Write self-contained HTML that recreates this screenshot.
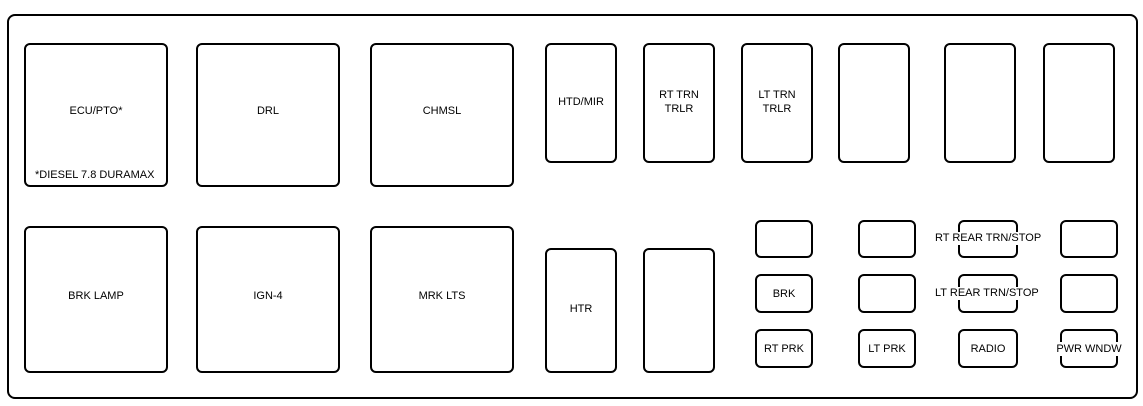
<!DOCTYPE html><html><head><style>
body{margin:0;width:1143px;height:406px;background:#fff;position:relative;font-family:"Liberation Sans",sans-serif;overflow:hidden}
.b{position:absolute;border:2px solid #000;border-radius:6px;box-sizing:border-box;display:flex;align-items:center;justify-content:center;text-align:center;font-size:11px;line-height:14px;color:#000}
.t{position:absolute;font-size:11px;background:#fff;color:#000;white-space:nowrap;line-height:13px}
.u{padding-bottom:8px}
</style></head><body>
<div class="b" style="left:7px;top:14px;width:1131px;height:385px;border-radius:8px"></div>
<div class="b u" style="left:24px;top:43px;width:144px;height:144px">ECU/PTO*</div>
<div class="t" style="left:35px;top:169px;font-size:11px">*DIESEL 7.8 DURAMAX</div>
<div class="b u" style="left:196px;top:43px;width:144px;height:144px">DRL</div>
<div class="b u" style="left:370px;top:43px;width:144px;height:144px">CHMSL</div>
<div class="b" style="left:545px;top:43px;width:72px;height:120px;padding-bottom:2px">HTD/MIR</div>
<div class="b" style="left:643px;top:43px;width:72px;height:120px;padding-bottom:2px">RT TRN<br>TRLR</div>
<div class="b" style="left:741px;top:43px;width:72px;height:120px;padding-bottom:2px">LT TRN<br>TRLR</div>
<div class="b" style="left:838px;top:43px;width:72px;height:120px"></div>
<div class="b" style="left:944px;top:43px;width:72px;height:120px"></div>
<div class="b" style="left:1043px;top:43px;width:72px;height:120px"></div>
<div class="b u" style="left:24px;top:226px;width:144px;height:147px">BRK LAMP</div>
<div class="b u" style="left:196px;top:226px;width:144px;height:147px">IGN-4</div>
<div class="b u" style="left:370px;top:226px;width:144px;height:147px">MRK LTS</div>
<div class="b" style="left:545px;top:248px;width:72px;height:125px;padding-bottom:4px">HTR</div>
<div class="b" style="left:643px;top:248px;width:72px;height:125px"></div>
<div class="b" style="left:755px;top:220px;width:58px;height:38px"></div>
<div class="b" style="left:755px;top:274px;width:58px;height:39px">BRK</div>
<div class="b" style="left:755px;top:329px;width:58px;height:39px">RT PRK</div>
<div class="b" style="left:858px;top:220px;width:58px;height:38px"></div>
<div class="b" style="left:858px;top:274px;width:58px;height:39px"></div>
<div class="b" style="left:858px;top:329px;width:58px;height:39px">LT PRK</div>
<div class="b" style="left:958px;top:220px;width:60px;height:38px"></div>
<div class="t" style="left:935px;top:232px">RT REAR TRN/STOP</div>
<div class="b" style="left:958px;top:274px;width:60px;height:39px"></div>
<div class="t" style="left:935px;top:287px">LT REAR TRN/STOP</div>
<div class="b" style="left:958px;top:329px;width:60px;height:39px">RADIO</div>
<div class="b" style="left:1060px;top:220px;width:58px;height:38px"></div>
<div class="b" style="left:1060px;top:274px;width:58px;height:39px"></div>
<div class="b" style="left:1060px;top:329px;width:58px;height:39px;white-space:nowrap;overflow:visible"><span style="background:#fff">PWR WNDW</span></div>
</body></html>
